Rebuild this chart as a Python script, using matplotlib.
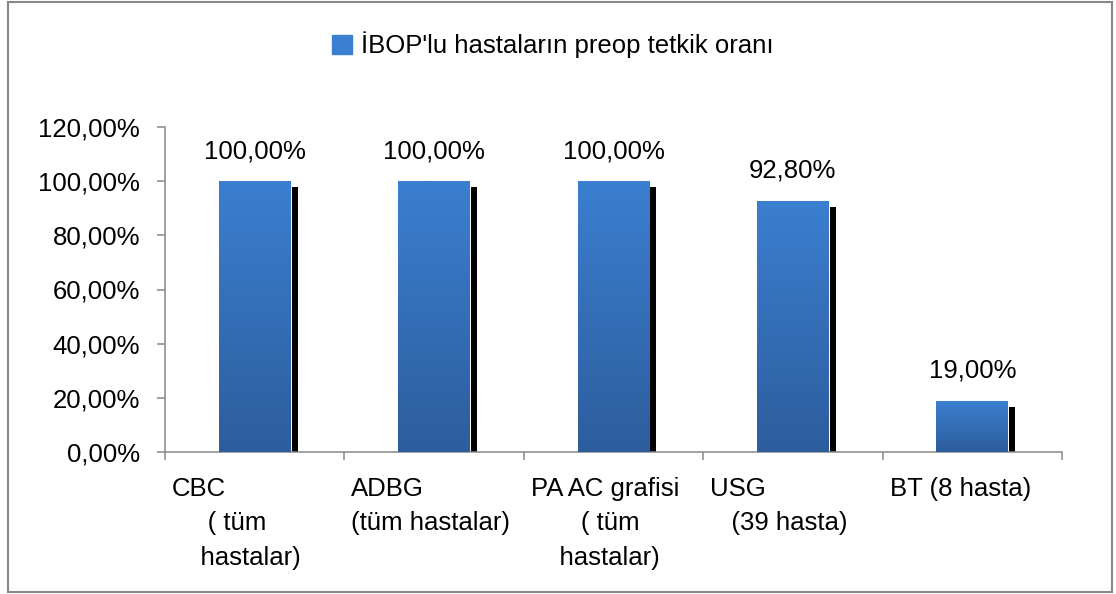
import numpy as np
import matplotlib
matplotlib.use("Agg")
import matplotlib.pyplot as plt
from matplotlib.patches import Rectangle
from matplotlib.transforms import offset_copy, blended_transform_factory
from matplotlib.colors import LinearSegmentedColormap

plt.rcParams["font.family"] = ["Liberation Sans", "DejaVu Sans"]

# data
categories = ["CBC", "ADBG", "PA AC grafisi", "USG", "BT"]
cat_labels = [
    "CBC\n     ( tüm\n    hastalar)",
    "ADBG\n(tüm hastalar)",
    "PA AC grafisi\n       ( tüm\n    hastalar)",
    "USG\n   (39 hasta)",
    "BT (8 hasta)",
]
rates = [1.00, 1.00, 1.00, 0.928, 0.19]
series_name = "İBOP'lu hastaların preop tetkik oranı"
yticks = [0.0, 0.2, 0.4, 0.6, 0.8, 1.0, 1.2]

COL_TOP = "#3b7fd0"
COL_BOT = "#2d5d9d"
AXIS = "#888888"
FS = 18.5

W, H = 1116, 594
fig = plt.figure(figsize=(W / 100, H / 100), dpi=100)
ax = fig.add_axes([165 / W, 1 - 452 / H, (1062 - 165) / W, (452 - 127) / H])

x = np.arange(len(categories))

# shadow: same bars shifted right/down in pixels
shadow_tr = offset_copy(ax.transData, fig=fig, x=7, y=-6, units="dots")
ax.bar(x, rates, 0.40, color="black", transform=shadow_tr, zorder=1)

bars = ax.bar(x, rates, 0.40, color=COL_TOP, edgecolor="white",
              linewidth=1.4, zorder=2)

cmap = LinearSegmentedColormap.from_list("barfill", [COL_BOT, COL_TOP])
grad = np.linspace(0, 1, 256).reshape(-1, 1)
for b in bars:
    x0, y0 = b.get_x(), b.get_y()
    im = ax.imshow(grad, cmap=cmap, origin="lower", aspect="auto",
                   extent=(x0, x0 + b.get_width(), y0, y0 + b.get_height()),
                   zorder=3)
    im.set_clip_path(b)

ax.set_xlim(-0.5, len(categories) - 0.5)
ax.set_ylim(0, 1.2)

for xi, v in zip(x, rates):
    ax.annotate(f"{v * 100:.2f}%".replace(".", ","), xy=(xi, v),
                xytext=(0, 13), textcoords="offset points",
                ha="center", va="bottom", fontsize=FS, color="black")

ax.set_yticks(yticks)
ax.set_yticklabels([f"{t * 100:.2f}%".replace(".", ",") for t in yticks],
                   fontsize=FS)
ax.tick_params(axis="y", direction="out", length=6, width=1.1,
               color=AXIS, pad=12)

ax.set_xticks(np.arange(len(categories) + 1) - 0.5)
ax.set_xticklabels([])
ax.tick_params(axis="x", direction="out", length=6, width=1.1, color=AXIS)

for s in ("top", "right"):
    ax.spines[s].set_visible(False)
for s in ("left", "bottom"):
    ax.spines[s].set_color(AXIS)
    ax.spines[s].set_linewidth(1.1)

lab_tr = blended_transform_factory(ax.transData, ax.transAxes)
lab_tr = offset_copy(lab_tr, fig=fig, x=7, y=-25, units="dots")
for xi, lab in zip(x, cat_labels):
    ax.text(xi - 0.5, 0, lab, transform=lab_tr, ha="left", va="top",
            fontsize=FS, linespacing=1.55)

# legend
fig.legend(handles=[Rectangle((0, 0), 1, 1, color=COL_TOP)],
           labels=[series_name], loc="center",
           bbox_to_anchor=(553 / W, 1 - 45 / H), frameon=False, fontsize=FS,
           handlelength=0.8, handleheight=0.8, handletextpad=0.35)

# outer chart border
fig.patches.append(Rectangle((8 / W, 2 / H), 1104 / W, 590 / H,
                             transform=fig.transFigure, fill=False,
                             edgecolor=AXIS, linewidth=1.5))

fig.savefig("out.png", dpi=100)
